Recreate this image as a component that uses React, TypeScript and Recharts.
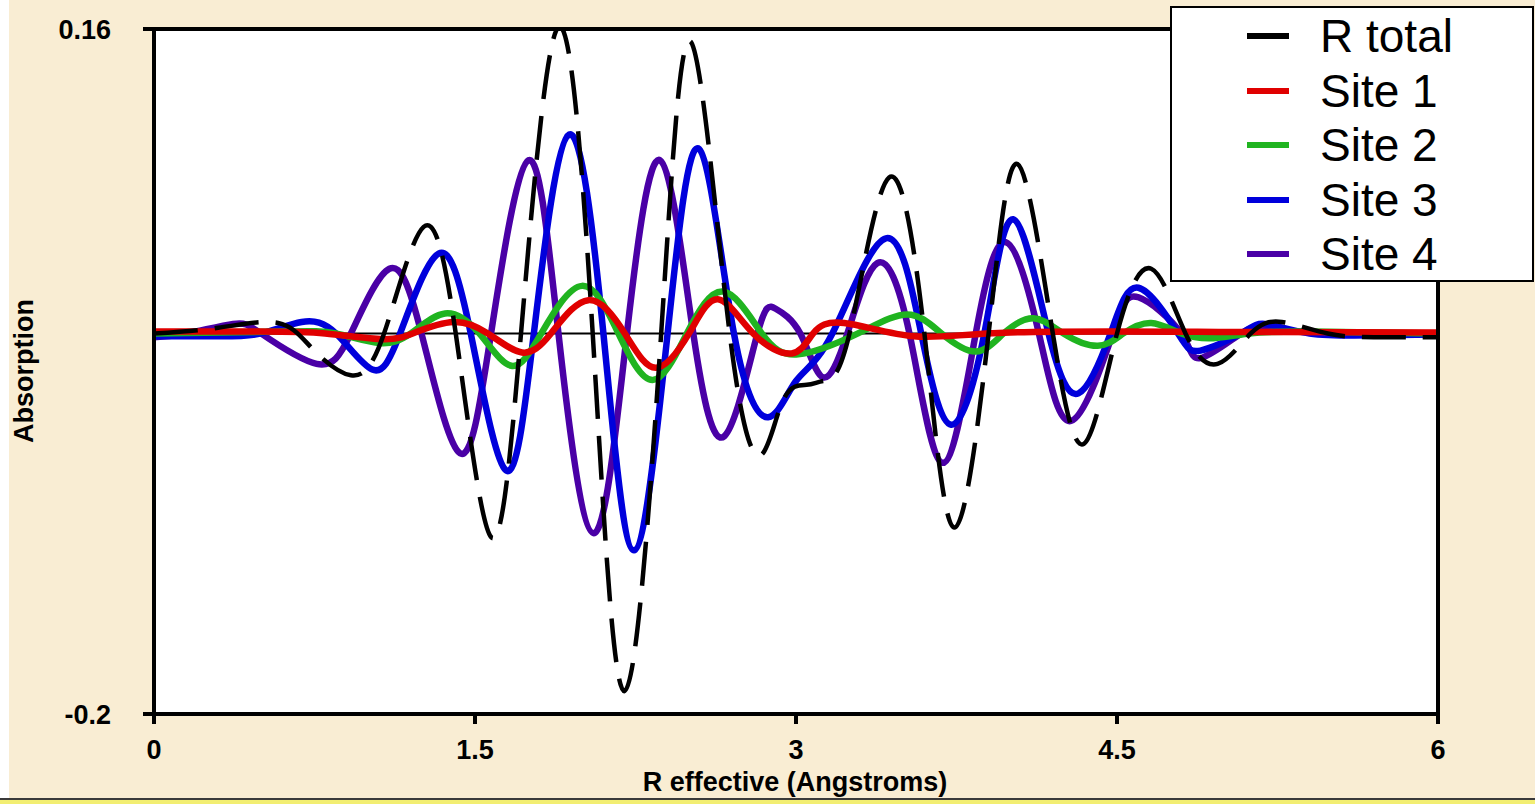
import React from "react";
import { LineChart, Line, XAxis, YAxis, CartesianGrid } from "recharts";

// R effective (Angstroms) / absorption
const rTotalR = [0, 0.3, 0.58, 0.74, 0.92, 1.075, 1.26, 1.41, 1.575, 1.715, 1.89, 2.05, 2.198, 2.37, 2.51, 2.69, 2.835, 2.94, 3.05, 3.13, 3.25, 3.435, 3.6, 3.74, 3.9, 4.035, 4.2, 4.345, 4.5, 4.66, 4.82, 4.97, 5.125, 5.27, 5.485, 5.7, 6];
const rTotalAbs = [0, 0.003, 0.0055, -0.008, -0.022, 0, 0.056, 0, -0.107, 0, 0.161, 0, -0.188, 0, 0.153, 0, -0.064, -0.035, -0.027, -0.025, 0, 0.082, 0, -0.102, 0, 0.089, 0, -0.058, 0, 0.034, 0, -0.016, 0, 0.006, 0, -0.002, -0.002];

const site1R = [0, 0.5, 0.8, 1.07, 1.22, 1.4, 1.56, 1.72, 1.855, 2.03, 2.2, 2.345, 2.5, 2.635, 2.8, 2.98, 3.08, 3.225, 3.55, 4.0, 5.0, 6];
const site1Abs = [0.001, 0.001, 0, -0.003, 0.0005, 0.006, 0, -0.01, 0, 0.0175, 0, -0.018, 0, 0.018, 0, -0.0105, 0, 0.0055, -0.0015, 0.0005, 0.0008, 0.0005];

const site2R = [0, 0.6, 0.85, 1.05, 1.2, 1.36, 1.52, 1.67, 1.81, 2.0, 2.17, 2.33, 2.49, 2.66, 2.84, 3.01, 3.29, 3.52, 3.68, 3.84, 3.97, 4.11, 4.25, 4.41, 4.53, 4.66, 4.8, 4.95, 5.12, 5.4, 6];
const site2Abs = [0, 0.001, 0, -0.005, 0, 0.0105, 0, -0.017, 0, 0.025, 0, -0.0245, 0, 0.022, 0, -0.011, 0, 0.01, 0, -0.0095, 0, 0.008, 0, -0.0065, 0, 0.0055, 0, -0.0025, 0, 0.001, 0];

const site3R = [0, 0.3, 0.5, 0.69, 0.85, 1.02, 1.15, 1.33, 1.48, 1.645, 1.775, 1.94, 2.1, 2.243, 2.4, 2.547, 2.71, 2.87, 3.0, 3.17, 3.42, 3.585, 3.725, 3.88, 4.015, 4.18, 4.32, 4.47, 4.6, 4.785, 4.89, 5.08, 5.19, 5.4, 5.7, 6];
const site3Abs = [-0.0015, -0.0015, 0, 0.006, 0, -0.019, 0, 0.042, 0, -0.072, 0, 0.1045, 0, -0.114, 0, 0.097, 0, -0.044, -0.025, 0, 0.05, 0, -0.048, 0, 0.06, 0, -0.0315, 0, 0.024, 0, -0.009, 0, 0.005, 0, -0.001, -0.0005];

const site4R = [0, 0.15, 0.37, 0.5, 0.76, 0.92, 1.1, 1.25, 1.43, 1.575, 1.75, 1.89, 2.055, 2.21, 2.365, 2.52, 2.665, 2.82, 2.905, 3.02, 3.125, 3.24, 3.38, 3.53, 3.685, 3.84, 3.98, 4.135, 4.285, 4.48, 4.6, 4.8, 4.89, 5.08, 5.2, 5.5, 6];
const site4Abs = [-0.002, 0, 0.005, 0, -0.016, 0, 0.034, 0, -0.063, 0, 0.091, 0, -0.105, 0, 0.091, 0, -0.054, 0, 0.013, 0, -0.023, 0, 0.037, 0, -0.068, 0, 0.048, 0, -0.046, 0, 0.019, 0, -0.013, 0, 0.0025, 0, 0];

const baselineR = [0, 6];
const baselineAbs = [0, 0];

const xTicks = [0, 1.5, 3, 4.5, 6];
const yTicks = [-0.2, 0.16];

const FONT = "Arial, 'Liberation Sans', sans-serif";
const BEIGE = "#f9edd3";

const toPoints = (xs: number[], ys: number[]) => xs.map((r, i) => ({ r, abs: ys[i] }));

const series = [
  { name: "R total", data: toPoints(rTotalR, rTotalAbs), color: "#000000", width: 4.5, dash: "44 17" },
  { name: "Site 1", data: toPoints(site1R, site1Abs), color: "#e00000", width: 6.5 },
  { name: "Site 2", data: toPoints(site2R, site2Abs), color: "#20b420", width: 6.5 },
  { name: "Site 3", data: toPoints(site3R, site3Abs), color: "#0000dc", width: 6.5 },
  { name: "Site 4", data: toPoints(site4R, site4Abs), color: "#4a00a6", width: 6.5 },
];

const tickStyle = { fill: "#000", fontSize: 27, fontWeight: 700, fontFamily: FONT };

const Legend: React.FC = () => (
  <div
    style={{
      position: "absolute",
      left: 1170,
      top: 6,
      width: 360,
      height: 272,
      background: "#fff",
      border: "2px solid #000",
    }}
  >
    {series.map((s, i) => {
      const cy = 28 + i * 54.5;
      return (
        <React.Fragment key={s.name}>
          <div
            style={{
              position: "absolute",
              left: 75,
              top: cy - 3,
              width: 42,
              height: 6,
              background: s.color,
            }}
          />
          <div
            style={{
              position: "absolute",
              left: 148,
              top: cy - 23,
              fontFamily: FONT,
              fontSize: 46,
              lineHeight: "46px",
              color: "#000",
              whiteSpace: "nowrap",
            }}
          >
            {s.name}
          </div>
        </React.Fragment>
      );
    })}
  </div>
);

const App: React.FC = () => {
  return (
    <div
      style={{
        position: "absolute",
        left: 0,
        top: 0,
        width: 1535,
        height: 804,
        background: "#fff",
        overflow: "hidden",
      }}
    >
      <div style={{ position: "absolute", left: 9, top: 0, width: 1526, height: 798, background: BEIGE }} />

      <div style={{ position: "absolute", left: 0, top: 0 }}>
        <LineChart width={1535} height={804} margin={{ top: 28, right: 96, bottom: 0, left: 0 }}>
          <CartesianGrid fill="#ffffff" horizontal={false} vertical={false} stroke="none" />
          <XAxis
            dataKey="r"
            type="number"
            domain={[0, 6]}
            ticks={xTicks}
            allowDataOverflow
            height={90}
            axisLine={{ stroke: "#000", strokeWidth: 4 }}
            tickLine={{ stroke: "#000", strokeWidth: 4 }}
            tickSize={10}
            tickMargin={16}
            tick={tickStyle}
            interval={0}
          />
          <XAxis
            xAxisId="top"
            orientation="top"
            dataKey="r"
            type="number"
            domain={[0, 6]}
            allowDataOverflow
            height={1}
            axisLine={{ stroke: "#000", strokeWidth: 4 }}
            tick={false}
            tickLine={false}
          />
          <YAxis
            type="number"
            domain={[-0.2, 0.16]}
            ticks={yTicks}
            allowDataOverflow
            width={154}
            axisLine={{ stroke: "#000", strokeWidth: 4 }}
            tickLine={{ stroke: "#000", strokeWidth: 4 }}
            tickSize={11}
            tickMargin={32}
            tick={tickStyle}
            interval={0}
          />
          <YAxis
            yAxisId="right"
            orientation="right"
            type="number"
            domain={[-0.2, 0.16]}
            width={1}
            axisLine={{ stroke: "#000", strokeWidth: 4 }}
            tick={false}
            tickLine={false}
          />
          <Line
            data={toPoints(baselineR, baselineAbs)}
            dataKey="abs"
            type="linear"
            stroke="#000"
            strokeWidth={2}
            dot={false}
            activeDot={false}
            isAnimationActive={false}
            legendType="none"
          />
          {[...series].reverse().map((s) => (
            <Line
              key={s.name}
              name={s.name}
              data={s.data}
              dataKey="abs"
              type="natural"
              stroke={s.color}
              strokeWidth={s.width}
              strokeDasharray={s.dash}
              dot={false}
              activeDot={false}
              isAnimationActive={false}
            />
          ))}
        </LineChart>
      </div>

      <div
        style={{
          position: "absolute",
          left: 24,
          top: 371,
          transform: "translate(-50%, -50%) rotate(-90deg)",
          fontFamily: FONT,
          fontSize: 27,
          fontWeight: 700,
          whiteSpace: "nowrap",
          color: "#000",
        }}
      >
        Absorption
      </div>
      <div
        style={{
          position: "absolute",
          left: 795,
          top: 769,
          transform: "translateX(-50%)",
          fontFamily: FONT,
          fontSize: 27,
          lineHeight: "27px",
          fontWeight: 700,
          whiteSpace: "nowrap",
          color: "#000",
        }}
      >
        R effective (Angstroms)
      </div>

      <Legend />

      <div style={{ position: "absolute", left: 0, top: 798, width: 1535, height: 2, background: "#3a3a3a" }} />
      <div style={{ position: "absolute", left: 0, top: 800, width: 1535, height: 4, background: "#f2ee72" }} />
    </div>
  );
};

export default App;
